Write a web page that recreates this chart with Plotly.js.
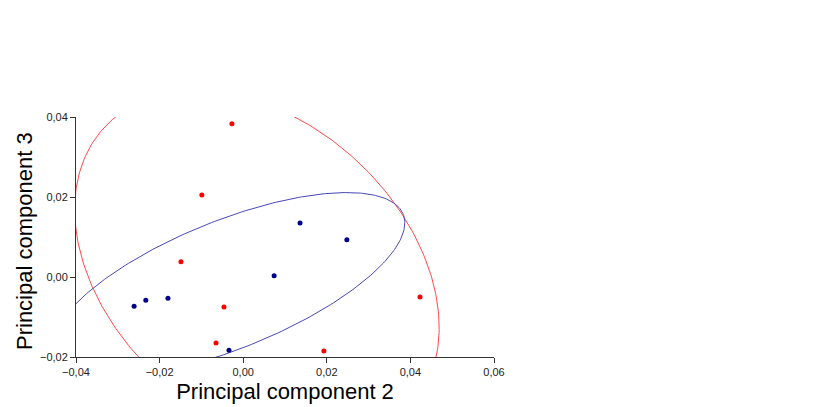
<!DOCTYPE html>
<html>
<head>
<meta charset="utf-8">
<script src="https://cdn.plot.ly/plotly-3.0.1.min.js"></script>
<style>html,body{margin:0;padding:0;background:#fff;}#chart{width:822px;height:407px;}</style>
</head>
<body>
<div id="chart"></div>
<script>
// Group A (red) scores
const redPC2 = [-0.0027, -0.0099, -0.0149, -0.0046, -0.0065, 0.0193, 0.0423];
const redPC3 = [0.0383, 0.0205, 0.0038, -0.0075, -0.0165, -0.0185, -0.0050];
// Group B (blue) scores
const bluePC2 = [-0.0261, -0.0233, -0.0180, -0.0034, 0.0074, 0.0136, 0.0248];
const bluePC3 = [-0.0073, -0.0058, -0.0053, -0.0183, 0.0003, 0.0135, 0.0093];
// Confidence level for the ellipses (chi-square, 2 dof)
const chi2_90 = 4.605;

const xTicks = [-0.04, -0.02, 0.00, 0.02, 0.04, 0.06];
const yTicks = [-0.02, 0.00, 0.02, 0.04];
const xTitle = 'Principal component 2';
const yTitle = 'Principal component 3';

function confEllipse(xs, ys, c2) {
  const n = xs.length;
  const mx = xs.reduce((a,b)=>a+b,0)/n;
  const my = ys.reduce((a,b)=>a+b,0)/n;
  let sxx=0, syy=0, sxy=0;
  for (let i=0;i<n;i++){ const dx=xs[i]-mx, dy=ys[i]-my; sxx+=dx*dx; syy+=dy*dy; sxy+=dx*dy; }
  sxx/=(n-1); syy/=(n-1); sxy/=(n-1);
  const m=(sxx+syy)/2, d=Math.sqrt(((sxx-syy)/2)**2+sxy*sxy);
  const l1=m+d, l2=m-d;
  const th=0.5*Math.atan2(2*sxy, sxx-syy);
  const k=Math.sqrt(c2), a=k*Math.sqrt(l1), b=k*Math.sqrt(Math.max(l2,0));
  const ex=[], ey=[];
  for (let i=0;i<=360;i++){
    const t=i*Math.PI/180;
    ex.push(mx + a*Math.cos(t)*Math.cos(th) - b*Math.sin(t)*Math.sin(th));
    ey.push(my + a*Math.cos(t)*Math.sin(th) + b*Math.sin(t)*Math.cos(th));
  }
  return {ex, ey};
}

const re = confEllipse(redPC2, redPC3, chi2_90);
const be = confEllipse(bluePC2, bluePC3, chi2_90);

const traces = [
  {x: re.ex, y: re.ey, mode:'lines', line:{color:'#ff4848', width:1}, hoverinfo:'skip', showlegend:false},
  {x: be.ex, y: be.ey, mode:'lines', line:{color:'#4848b8', width:1}, hoverinfo:'skip', showlegend:false},
  {x: redPC2, y: redPC3, mode:'markers', marker:{color:'#ff0000', size:5}, showlegend:false},
  {x: bluePC2, y: bluePC3, mode:'markers', marker:{color:'#00008b', size:5}, showlegend:false}
];

const fam = 'Liberation Sans, Arial, sans-serif';
const axisCommon = {
  showgrid:false, zeroline:false, showline:true, linecolor:'#333', linewidth:1,
  ticks:'outside', ticklen:5, tickcolor:'#333', tickformat:'.2f',
  tickfont:{family:fam, size:11, color:'#222'}
};

const layout = {
  width:822, height:407,
  margin:{l:76, r:328, t:117, b:50},
  paper_bgcolor:'#fff', plot_bgcolor:'#fff',
  separators:',.',
  xaxis: Object.assign({}, axisCommon, {
    range:[-0.04, 0.06], tickvals:xTicks,
    title:{text:xTitle, standoff:6, font:{family:fam, size:22, color:'#000'}}
  }),
  yaxis: Object.assign({}, axisCommon, {
    range:[-0.02, 0.04], tickvals:yTicks
  }),
  annotations:[{
    text:yTitle, textangle:-90, showarrow:false,
    xref:'paper', yref:'paper', x:-76/418, y:(357-241.5)/240,
    xanchor:'left', yanchor:'middle', xshift:10,
    font:{family:fam, size:22, color:'#000'}
  }]
};

Plotly.newPlot('chart', traces, layout, {displayModeBar:false, staticPlot:true});
</script>
</body>
</html>
